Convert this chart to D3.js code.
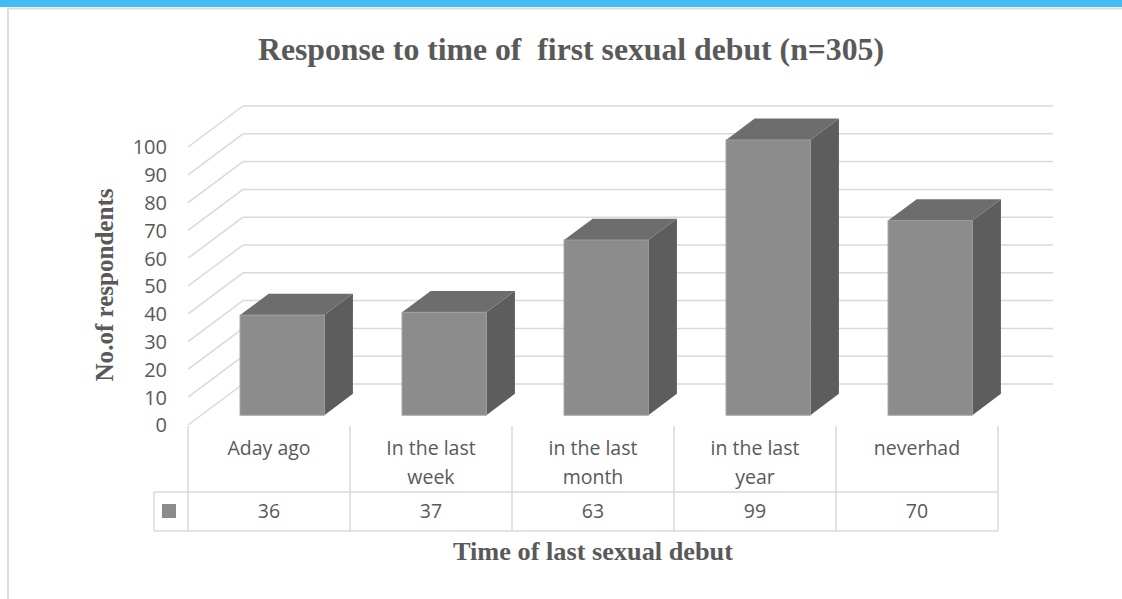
<!DOCTYPE html>
<html>
<head>
<meta charset="utf-8">
<script src="https://cdn.jsdelivr.net/npm/d3@7"></script>
<style>
  html, body { margin: 0; padding: 0; background: #fff; }
  svg { display: block; }
</style>
</head>
<body>
<svg id="chart" width="1122" height="599"></svg>
<script>
// Data
const categories = ["Aday ago", "In the last week", "in the last month", "in the last year", "neverhad"];
const categoryLines = [["Aday ago"], ["In the last", "week"], ["in the last", "month"], ["in the last", "year"], ["neverhad"]];
const values = [36, 37, 63, 99, 70];
const yTicks = [0, 10, 20, 30, 40, 50, 60, 70, 80, 90, 100];

const svg = d3.select("#chart");
const grey = "#595959";
const gridColor = "#d9d9d9";
const serif = "'Liberation Serif', 'Times New Roman', Times, serif";
const sans = "'Open Sans', sans-serif";

// Frame: blue header band and light border
svg.append("rect").attr("x", 0).attr("y", 0).attr("width", 1122).attr("height", 7).attr("fill", "#42bdf4");
svg.append("line").attr("x1", 8).attr("x2", 1122).attr("y1", 8.5).attr("y2", 8.5)
  .attr("stroke", "#dcdcdc").attr("stroke-width", 2);
svg.append("line").attr("x1", 8).attr("x2", 8).attr("y1", 8).attr("y2", 599)
  .attr("stroke", "#dcdcdc").attr("stroke-width", 2);

// Scales
const x = d3.scaleBand().domain(categories).range([188, 998]).paddingInner(0).paddingOuter(0);
const y = d3.scaleLinear().domain([0, 100]).range([425, 147]);
const depth = { dx: 55, dy: -41 };
const barFront = 0.24, barBack = 0.76;
const barWidth = x.bandwidth() * 0.52;

// Walls: side wall diagonals and back wall lines
const grid = svg.append("g").attr("stroke", gridColor).attr("stroke-width", 1.5).attr("fill", "none");
yTicks.forEach(t => {
  const yf = y(t);
  const xl = x.range()[0];
  grid.append("line").attr("x1", xl).attr("y1", yf).attr("x2", xl + depth.dx).attr("y2", yf + depth.dy);
  grid.append("line").attr("x1", xl + depth.dx).attr("y1", yf + depth.dy)
    .attr("x2", x.range()[1] + depth.dx).attr("y2", yf + depth.dy);
});

// Y tick labels
svg.append("g").selectAll("text").data(yTicks).join("text")
  .attr("x", 167).attr("y", d => y(d) + 2)
  .attr("text-anchor", "end").attr("dominant-baseline", "middle")
  .attr("font-family", sans).attr("font-size", 20)
  .attr("fill", grey).text(d => d);

// 3D columns
const bars = svg.append("g");
categories.forEach((c, i) => {
  const v = values[i];
  const cx = x(c) + x.bandwidth() / 2;
  const fdx = depth.dx * barFront, fdy = depth.dy * barFront;
  const bdx = depth.dx * barBack, bdy = depth.dy * barBack;
  const x0 = cx - barWidth / 2 + fdx, x1 = cx + barWidth / 2 + fdx;
  const yt = y(v) + fdy, yb = y(0) + fdy;
  const sx = bdx - fdx, sy = bdy - fdy;
  const g = bars.append("g");
  // right side face
  g.append("path")
    .attr("d", `M${x1},${yt} L${x1 + sx},${yt + sy} L${x1 + sx},${yb + sy} L${x1},${yb} Z`)
    .attr("fill", "#5d5d5d");
  // top face
  g.append("path")
    .attr("d", `M${x0},${yt} L${x0 + sx},${yt + sy} L${x1 + sx},${yt + sy} L${x1},${yt} Z`)
    .attr("fill", "#6d6d6d");
  // front face
  g.append("rect").attr("x", x0).attr("y", yt).attr("width", x1 - x0).attr("height", yb - yt)
    .attr("fill", "#8c8c8c").attr("stroke", "#9c9c9c").attr("stroke-width", 1);
});

// Data table under the plot
const table = svg.append("g").attr("stroke", gridColor).attr("stroke-width", 1.5);
const rowTop = 426, rowMid = 492, rowBot = 531, keyLeft = 154;
table.append("line").attr("x1", keyLeft).attr("x2", x.range()[1]).attr("y1", rowMid).attr("y2", rowMid);
table.append("line").attr("x1", keyLeft).attr("x2", x.range()[1]).attr("y1", rowBot).attr("y2", rowBot);
table.append("line").attr("x1", keyLeft).attr("x2", keyLeft).attr("y1", rowMid).attr("y2", rowBot);
categories.forEach(c => {
  table.append("line").attr("x1", x(c)).attr("x2", x(c)).attr("y1", rowTop).attr("y2", rowBot);
});
table.append("line").attr("x1", x.range()[1]).attr("x2", x.range()[1]).attr("y1", rowTop).attr("y2", rowBot);

// Legend key
svg.append("rect").attr("x", 162).attr("y", 504).attr("width", 14).attr("height", 14).attr("fill", "#8c8c8c");

// Category labels and values
categories.forEach((c, i) => {
  const cx = x(c) + x.bandwidth() / 2;
  categoryLines[i].forEach((line, j) => {
    svg.append("text").attr("x", cx).attr("y", 450 + j * 29)
      .attr("text-anchor", "middle").attr("dominant-baseline", "middle")
      .attr("font-family", sans).attr("font-size", 19.5)
      .attr("fill", grey).text(line);
  });
  svg.append("text").attr("x", cx).attr("y", 513)
    .attr("text-anchor", "middle").attr("dominant-baseline", "middle")
    .attr("font-family", sans).attr("font-size", 19.5)
    .attr("fill", grey).text(values[i]);
});

// Titles: tall, narrow bold serif lettering
function tallText(tx, ty, rot, size, len, str) {
  svg.append("g").attr("transform", `translate(${tx},${ty}) rotate(${rot}) scale(1,1.35)`)
    .append("text").attr("x", 0).attr("y", 0).attr("text-anchor", "middle")
    .attr("font-family", serif).attr("font-weight", "bold")
    .attr("font-size", size).attr("fill", grey)
    .attr("textLength", len).attr("lengthAdjust", "spacingAndGlyphs")
    .attr("xml:space", "preserve")
    .text(str);
}
tallText(571, 60, 0, 24, 626, "Response to time of  first sexual debut (n=305)");
tallText(113, 285, -90, 19, 193, "No.of respondents");
tallText(593, 560, 0, 19, 280, "Time of last sexual debut");
</script>
</body>
</html>
